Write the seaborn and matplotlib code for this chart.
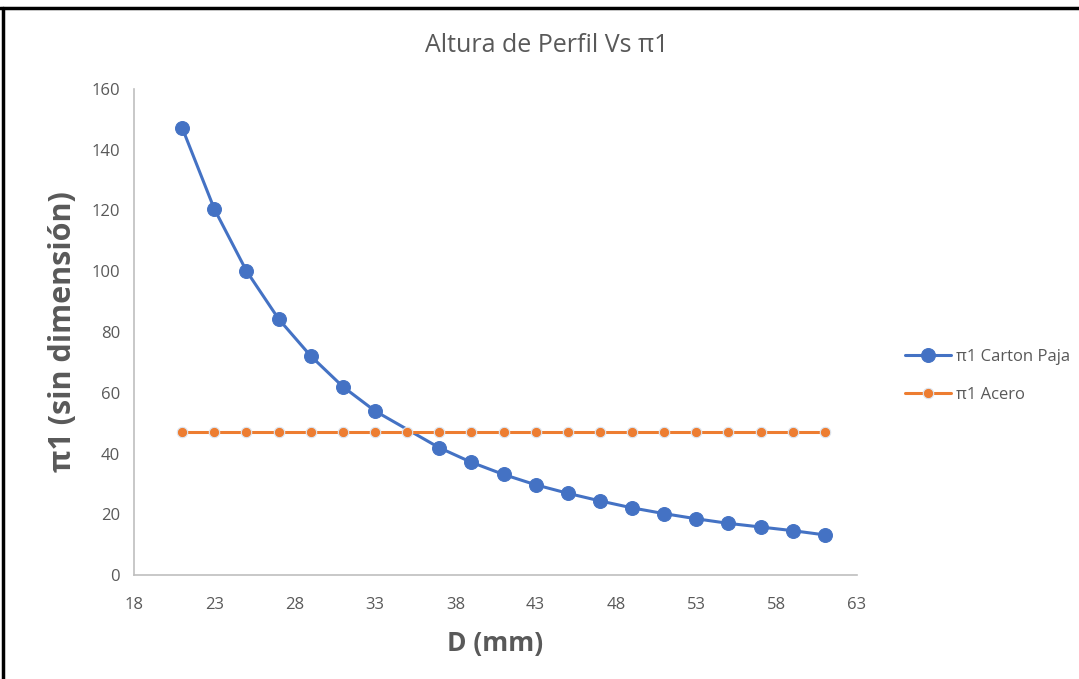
import matplotlib
matplotlib.use("Agg")
import matplotlib.pyplot as plt
import seaborn as sns
import pandas as pd
from matplotlib.lines import Line2D
from matplotlib.ticker import MultipleLocator

D_carton = [21, 23, 25, 27, 29, 31, 33, 37, 39, 41, 43, 45, 47, 49, 51, 53, 55, 57, 59, 61]
carton_paja = [147.2, 120.5, 100.1, 84.3, 72.1, 62.0, 54.0, 41.9, 37.1, 33.1, 29.7,
               26.9, 24.4, 22.1, 20.2, 18.5, 17.0, 15.8, 14.6, 13.2]
D_acero = [21, 23, 25, 27, 29, 31, 33, 35, 37, 39, 41, 43, 45, 47, 49, 51, 53, 55, 57, 59, 61]
acero = [47.2] * len(D_acero)

sns.set_theme(style="white")
plt.rcParams['font.family'] = ['Open Sans', 'DejaVu Sans']

fig = plt.figure(figsize=(10.79, 6.79), dpi=100)
ax = fig.add_axes([134/1079, 1-575/679, (857-134)/1079, (575-89)/679])

df1 = pd.DataFrame({"D": D_carton, "v": carton_paja})
df2 = pd.DataFrame({"D": D_acero, "v": acero})
sns.lineplot(data=df1, x="D", y="v", ax=ax, color="#4472C4", lw=2.2, marker="o",
             markersize=10, markeredgecolor="#4472C4", label="π1 Carton Paja")
sns.lineplot(data=df2, x="D", y="v", ax=ax, color="#ED7D31", lw=2.2, marker="o",
             markersize=7.5, markeredgecolor="#DCE6F2", markeredgewidth=0.8, label="π1 Acero")

ax.set_xlim(18, 63)
ax.set_ylim(0, 160)
ax.set_xticks(range(18, 64, 5))
ax.set_yticks(range(0, 161, 20))
ax.xaxis.set_minor_locator(MultipleLocator(1))
ax.yaxis.set_minor_locator(MultipleLocator(4))
gray = "#BFBFBF"
for s in ["top", "right"]:
    ax.spines[s].set_visible(False)
for s in ["left", "bottom"]:
    ax.spines[s].set_color(gray)
    ax.spines[s].set_linewidth(1.2)
ax.tick_params(axis="x", which="major", direction="in", length=0, labelsize=12, pad=16)
ax.tick_params(axis="y", which="major", direction="in", length=0, labelsize=12, pad=10)
ax.tick_params(axis="both", which="major", labelcolor="#595959")
ax.tick_params(axis="both", which="minor", direction="in", length=4, color=gray, width=1)
ax.grid(False)

fig.text(547/1079, 1-45/679, "Altura de Perfil Vs π1", fontsize=18, color="#595959",
         ha="center", va="center")
ax.set_xlabel("D (mm)", fontsize=19, fontweight="bold", color="#595959", labelpad=12)
ax.set_ylabel("π1 (sin dimensión)", fontsize=22, fontweight="bold", color="#595959", labelpad=10)

leg = ax.legend(loc="center left", bbox_to_anchor=(1.045, 0.41), frameon=False,
                fontsize=12, labelspacing=1.3, handlelength=2.8, handletextpad=0.3)
for t in leg.get_texts():
    t.set_color("#595959")

fig.add_artist(Line2D([0, 1], [1-7.5/679, 1-7.5/679], transform=fig.transFigure, color="black", lw=2.5))
fig.add_artist(Line2D([2.5/1079, 2.5/1079], [0, 1-7.5/679], transform=fig.transFigure, color="black", lw=2.5))

fig.savefig("out.png", dpi=100)
